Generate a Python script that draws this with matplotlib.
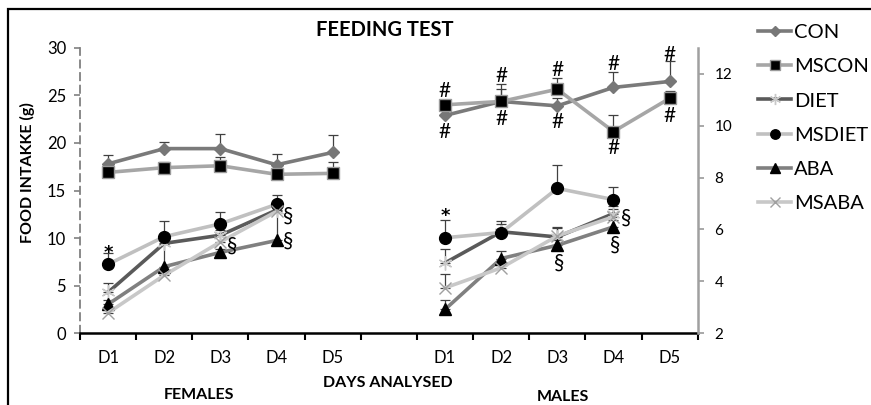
import numpy as np
import matplotlib
matplotlib.use("Agg")
import matplotlib.pyplot as plt
from matplotlib.patches import Rectangle

plt.rcParams['font.family'] = ['Lato', 'DejaVu Sans']

# ---------------- data ----------------
days = ["D1", "D2", "D3", "D4", "D5"]
series = ["CON", "MSCON", "DIET", "MSDIET", "ABA", "MSABA"]
nan = np.nan

# females (left axis, g)
f_con = [17.8, 19.4, 19.4, 17.7, 19.0]
f_mscon = [16.9, 17.4, 17.6, 16.7, 16.8]
f_diet = [4.3, 9.45, 10.3, 12.95, nan]
f_msdiet = [7.25, 10.15, 11.5, 13.55, nan]
f_aba = [3.05, 7.0, 8.5, 9.75, nan]
f_msaba = [2.15, 6.1, 9.6, 12.8, nan]

f_con_err = [0.9, 0.7, 1.5, 1.1, 1.8]
f_mscon_err = [0.3, 0.6, 0.9, 0.3, 1.2]
f_diet_err = [0.95, 0.5, 0.5, 0.6, nan]
f_msdiet_err = [1.2, 1.65, 1.2, 0.95, nan]
f_aba_err = [0.45, 2.4, 0.4, 3.5, nan]
f_msaba_err = [0.5, 0.4, 0.9, 0.4, nan]

# males (right axis)
m_con = [10.39, 10.93, 10.76, 11.47, 11.70]
m_mscon = [10.80, 10.93, 11.40, 9.77, 11.05]
m_diet = [4.71, 5.91, 5.71, 6.61, nan]
m_msdiet = [5.68, 5.88, 7.58, 7.15, nan]
m_aba = [2.92, 4.88, 5.39, 6.10, nan]
m_msaba = [3.75, 4.52, 5.75, 6.49, nan]

m_con_err = [0.2, 0.67, 0.3, 0.58, 0.77]
m_mscon_err = [0.2, 0.47, 0.45, 0.64, 0.3]
m_diet_err = [0.55, 0.3, 0.35, 0.3, nan]
m_msdiet_err = [0.7, 0.44, 0.9, 0.5, nan]
m_aba_err = [0.35, 0.3, 0.2, 0.25, nan]
m_msaba_err = [0.54, 0.2, 0.35, 0.3, nan]

female_vals = [f_con, f_mscon, f_diet, f_msdiet, f_aba, f_msaba]
female_errs = [f_con_err, f_mscon_err, f_diet_err, f_msdiet_err, f_aba_err, f_msaba_err]
male_vals = [m_con, m_mscon, m_diet, m_msdiet, m_aba, m_msaba]
male_errs = [m_con_err, m_mscon_err, m_diet_err, m_msdiet_err, m_aba_err, m_msaba_err]

# significance marks: (day index, centre value, symbol, x offset in pt)
female_marks = [(0, 9.1, "*", 0), (2, 9.3, "§", 8.5),
                (3, 12.4, "§", 8.5), (3, 9.8, "§", 8.5)]
male_marks = [(0, 6.73, "*", 0),
              (3, 6.5, "§", 9), (3, 5.46, "§", 1), (2, 4.76, "§", 1),
              (0, 11.38, "#", 0), (0, 9.83, "#", 0),
              (1, 11.98, "#", 0), (1, 10.31, "#", 0),
              (2, 12.21, "#", 0), (2, 10.18, "#", 0),
              (3, 12.43, "#", 0), (3, 9.19, "#", 0),
              (4, 12.79, "#", 0), (4, 10.44, "#", 0)]
sym_size = {"*": 13, "§": 15, "#": 15}
sym_centre = {"*": 0.6, "§": 0.33, "#": 0.36}
sym_font = {"*": dict(family="DejaVu Sans", fontweight="bold"), "§": {}, "#": {}}

# ---------------- styles ----------------
styles = [
    dict(color="#7a7a7a", marker="D", ms=6.5, mfc="#777777", mec="#777777"),
    dict(color="#a6a6a6", marker="s", ms=9, mfc="black", mec="#9a9a9a"),
    dict(color="#5a5a5a", marker=(6, 2, 0), ms=10, mfc="#c8c8c8", mec="#c8c8c8", mew=1.0),
    dict(color="#c0c0c0", marker="o", ms=8.5, mfc="black", mec="black"),
    dict(color="#808080", marker="^", ms=8.5, mfc="black", mec="black"),
    dict(color="#c8c8c8", marker="x", ms=9, mfc="#a0a0a0", mec="#a0a0a0", mew=1.0),
]

W, H = 871, 405
fig = plt.figure(figsize=(W / 100, H / 100), dpi=100)
ax = fig.add_axes([80 / W, 1 - 333.3 / H, (697.7 - 80) / W, (333.3 - 47.7) / H])
ax2 = ax.twinx()

xf = np.arange(5)
xm = np.arange(5) + 6

handles = []
for vals, errs, st, name in zip(female_vals, female_errs, styles, series):
    v = np.array(vals, float)
    e = np.array(errs, float)
    ax.errorbar(xf, v, yerr=[np.zeros_like(e), e], fmt="none", ecolor="#404040",
                elinewidth=0.9, capsize=3.5, capthick=0.9, zorder=2)
    ln, = ax.plot(xf, v, lw=2.6, label=name, zorder=3, **st)
    handles.append(ln)

for vals, errs, st, name in zip(male_vals, male_errs, styles, series):
    v = np.array(vals, float)
    e = np.array(errs, float)
    ax2.errorbar(xm, v, yerr=[np.zeros_like(e), e], fmt="none", ecolor="#404040",
                 elinewidth=0.9, capsize=3.5, capthick=0.9, zorder=2)
    ax2.plot(xm, v, lw=2.6, zorder=3, **st)

def put_marks(a, xs, marks):
    for d, val, s, dx in marks:
        fs = sym_size[s]
        a.annotate(s, (xs[d], val), xytext=(dx, -sym_centre[s] * fs), textcoords="offset points",
                   ha="center", va="baseline", fontsize=fs, color="black", **sym_font[s])

put_marks(ax, xf, female_marks)
put_marks(ax2, xm, male_marks)

# ---------------- axes ----------------
ax.set_xlim(-0.5, 10.5)
ax.set_ylim(0, 30)
ax2.set_ylim(2, 13)

ax.set_xticks(np.arange(-0.5, 11, 1.0))
ax.set_xticklabels([])
ax.set_xticks(list(xf) + list(xm), minor=True)
ax.set_xticklabels(days + days, minor=True)
ax.tick_params(axis="x", which="major", direction="out", length=5, width=1.5, color="black")
ax.tick_params(axis="x", which="minor", length=0, pad=12, labelsize=12)

ax.set_yticks(np.arange(0, 31, 5))
ax.tick_params(axis="y", direction="out", length=4, width=1.2, color="#808080", labelsize=12, pad=6)
ax2.set_yticks([2, 4, 6, 8, 10, 12])
ax2.tick_params(axis="y", direction="out", length=4, width=1.2, color="#9a9a9a", labelsize=11, pad=8)

for sp in ["top", "right"]:
    ax.spines[sp].set_visible(False)
ax.spines["left"].set_color("#808080")
ax.spines["left"].set_linestyle((0, (4, 3)))
ax.spines["left"].set_linewidth(1.3)
ax.spines["bottom"].set_color("black")
ax.spines["bottom"].set_linewidth(1.8)
for sp in ["top", "left", "bottom"]:
    ax2.spines[sp].set_visible(False)
ax2.spines["right"].set_color("#a0a0a0")
ax2.spines["right"].set_linewidth(1.8)
ax.patch.set_visible(False)

# ---------------- texts ----------------
fig.text(385 / W, 1 - 30 / H, "FEEDING TEST", ha="center", va="center", fontsize=14.5, fontweight="bold")
fig.text(388 / W, 1 - 383 / H, "DAYS ANALYSED", ha="center", va="center", fontsize=11.5, fontweight="bold")
fig.text(199 / W, 1 - 395 / H, "FEMALES", ha="center", va="center", fontsize=11.5, fontweight="bold")
fig.text(563 / W, 1 - 397 / H, "MALES", ha="center", va="center", fontsize=11.5, fontweight="bold")
fig.text(27.5 / W, 1 - 172.5 / H, "FOOD INTAKKE (g)", ha="center", va="center", rotation=90,
         fontsize=11.5, fontweight="bold")

fig.legend(handles, series, loc="upper left", bbox_to_anchor=(758 / W, 1 - 24 / H),
           frameon=False, fontsize=14.5, handlelength=1.65, handletextpad=0.15,
           labelspacing=0.85, borderaxespad=0, borderpad=0, numpoints=1, markerscale=0.8)

fig.patches.append(Rectangle((8 / W, -0.2), 1.5, 1.2 - 9 / H, transform=fig.transFigure,
                             fill=False, edgecolor="black", lw=1.6, clip_on=False))

fig.savefig("out.png", dpi=100)
